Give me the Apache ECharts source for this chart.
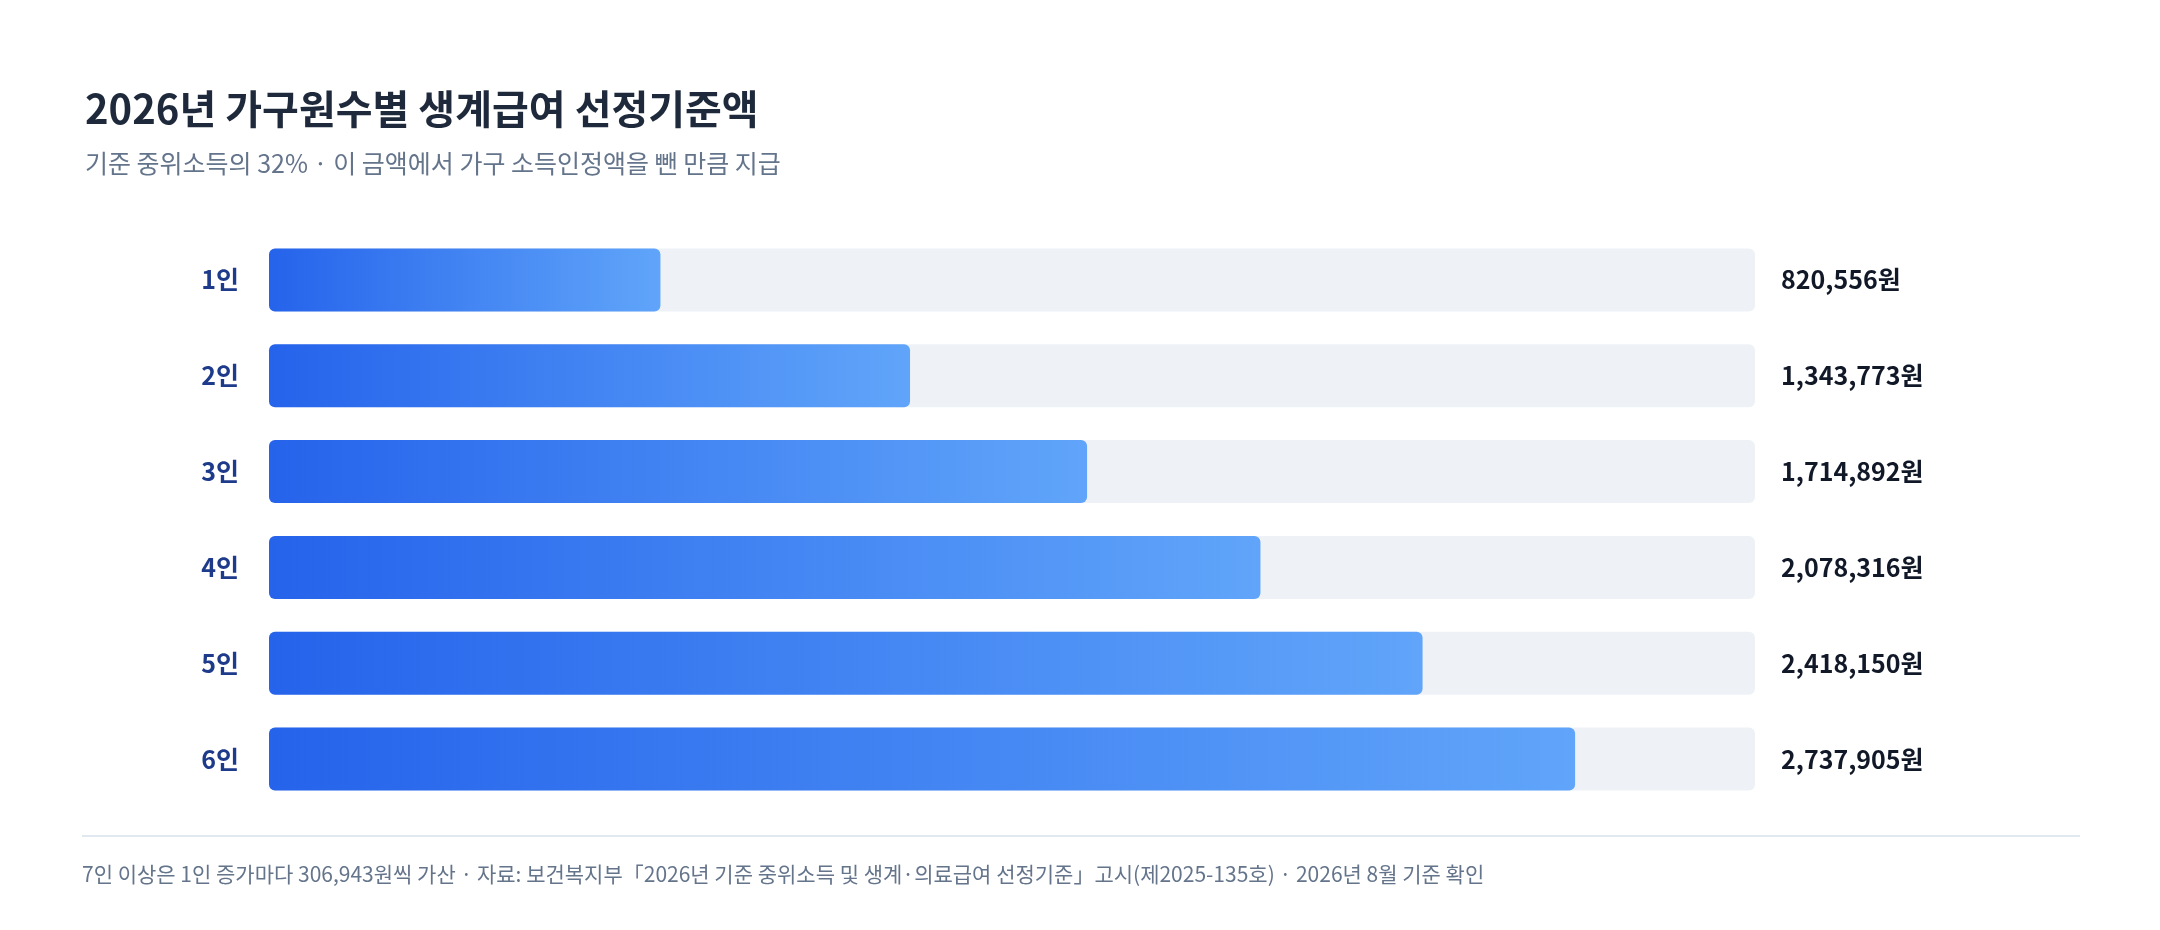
<!DOCTYPE html>
<html>
<head>
<meta charset="utf-8">
<script src="https://cdn.jsdelivr.net/npm/echarts@6/dist/echarts.min.js"></script>
<style>
  html, body { margin: 0; padding: 0; background: #fff; }
  #chart { width: 2160px; height: 930px; }
</style>
</head>
<body>
<div id="chart"></div>
<script>
// 가구원수
const categories = ['1인', '2인', '3인', '4인', '5인', '6인'];
// 생계급여 선정기준액 (원)
const amounts = [820556, 1343773, 1714892, 2078316, 2418150, 2737905];
const axisMax = 3115000;

const font = '"Noto Sans CJK KR", "Noto Sans", sans-serif';
const chart = echarts.init(document.getElementById('chart'));

const option = {
  animation: false,
  title: {
    text: '2026년 가구원수별 생계급여 선정기준액',
    subtext: '기준 중위소득의 32% · 이 금액에서 가구 소득인정액을 뺀 만큼 지급',
    left: 80,
    top: 84,
    itemGap: 22,
    textStyle: { fontFamily: font, fontSize: 40, fontWeight: 'bold', color: '#1e293b' },
    subtextStyle: { fontFamily: font, fontSize: 25, color: '#64748b' }
  },
  grid: { left: 269, right: 405, top: 232, bottom: 123 },
  xAxis: { type: 'value', min: 0, max: axisMax, show: false },
  yAxis: [
    {
      type: 'category',
      data: categories,
      inverse: true,
      axisLine: { show: false },
      axisTick: { show: false },
      axisLabel: { margin: 30, fontFamily: font, fontSize: 25, fontWeight: 'bold', color: '#1e3a8a' }
    },
    {
      type: 'category',
      data: amounts.map(v => v.toLocaleString('en-US') + '원'),
      inverse: true,
      position: 'right',
      axisLine: { show: false },
      axisTick: { show: false },
      axisLabel: { margin: 26, align: 'left', fontFamily: font, fontSize: 25, fontWeight: 'bold', color: '#111827' }
    }
  ],
  series: [{
    type: 'bar',
    data: amounts,
    barWidth: 63,
    showBackground: true,
    backgroundStyle: { color: '#eef2f7', borderRadius: 6 },
    itemStyle: {
      borderRadius: 6,
      color: new echarts.graphic.LinearGradient(0, 0, 1, 0, [
        { offset: 0, color: '#2563eb' },
        { offset: 1, color: '#60a5fa' }
      ])
    }
  }],
  graphic: [
    { type: 'rect', shape: { x: 82, y: 835, width: 1998, height: 2 }, style: { fill: '#e2e8f0' } },
    {
      type: 'text', left: 82, top: 864,
      style: {
        text: '7인 이상은 1인 증가마다 306,943원씩 가산 · 자료: 보건복지부「2026년 기준 중위소득 및 생계·의료급여 선정기준」고시(제2025-135호) · 2026년 8월 기준 확인',
        font: '21px ' + font, fill: '#64748b'
      }
    }
  ]
};
chart.setOption(option);
</script>
</body>
</html>
